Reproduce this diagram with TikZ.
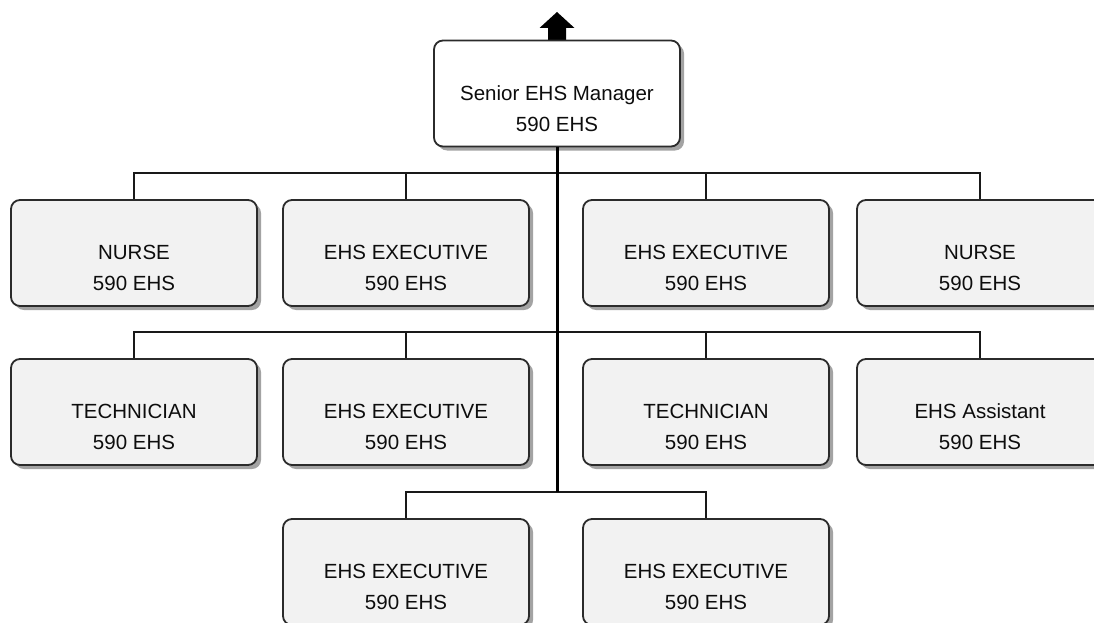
\documentclass[tikz,border=0pt]{standalone}
\usepackage{fontspec}
\setmainfont{Liberation Sans}
\usetikzlibrary{shadows}
\definecolor{edgec}{HTML}{2B2B2B}
\definecolor{boxfill}{HTML}{F2F2F2}
\tikzset{
  box/.style={draw=edgec, line width=1.8pt, rounded corners=9pt, fill=boxfill,
    minimum width=246pt, minimum height=106pt, inner sep=0pt,
    drop shadow={shadow xshift=4pt, shadow yshift=-4pt, fill=black!45, opacity=0.8}},
  topbox/.style={box, fill=white},
  txt/.style={align=center, text=black!95, font=\fontsize{20.5}{31}\selectfont, inner sep=0pt},
  conn/.style={draw=black!90, line width=1.8pt},
  trunk/.style={draw=black, line width=3pt},
}
\begin{document}
\begin{tikzpicture}[x=1pt,y=-1pt]
\useasboundingbox (0,0) rectangle (1094,623);
\begin{scope}
\clip (0,0) rectangle (1094,623);
% arrow
\fill[black] (548,41) -- (548,28) -- (539.5,28) -- (557,12) -- (574.5,28) -- (566,28) -- (566,41) -- cycle;
% nodes
\node[topbox] (top) at (557,93.5) {};
\node[txt] at ([yshift=-15pt]top.center) {Senior EHS Manager\\590 EHS};

\coordinate (j1) at (557,173);
\coordinate (j2) at (557,332);
\coordinate (j3) at (557,492);

\node[box] (a1) at (134,253) {};
\node[box] (a2) at (406,253) {};
\node[box] (a3) at (706,253) {};
\node[box] (a4) at (980,253) {};
\node[box] (b1) at (134,412) {};
\node[box] (b2) at (406,412) {};
\node[box] (b3) at (706,412) {};
\node[box] (b4) at (980,412) {};
\node[box] (c1) at (406,572) {};
\node[box] (c2) at (706,572) {};

\node[txt] at ([yshift=-15pt]a1.center) {NURSE\\590 EHS};
\node[txt] at ([yshift=-15pt]a2.center) {EHS EXECUTIVE\\590 EHS};
\node[txt] at ([yshift=-15pt]a3.center) {EHS EXECUTIVE\\590 EHS};
\node[txt] at ([yshift=-15pt]a4.center) {NURSE\\590 EHS};
\node[txt] at ([yshift=-15pt]b1.center) {TECHNICIAN\\590 EHS};
\node[txt] at ([yshift=-15pt]b2.center) {EHS EXECUTIVE\\590 EHS};
\node[txt] at ([yshift=-15pt]b3.center) {TECHNICIAN\\590 EHS};
\node[txt] at ([yshift=-15pt]b4.center) {EHS Assistant\\590 EHS};
\node[txt] at ([yshift=-15pt]c1.center) {EHS EXECUTIVE\\590 EHS};
\node[txt] at ([yshift=-15pt]c2.center) {EHS EXECUTIVE\\590 EHS};

% connectors
\draw[conn] (j1) -| (a1.north);
\draw[conn] (j1) -| (a2.north);
\draw[conn] (j1) -| (a3.north);
\draw[conn] (j1) -| (a4.north);
\draw[conn] (j2) -| (b1.north);
\draw[conn] (j2) -| (b2.north);
\draw[conn] (j2) -| (b3.north);
\draw[conn] (j2) -| (b4.north);
\draw[conn] (j3) -| (c1.north);
\draw[conn] (j3) -| (c2.north);
\draw[trunk] (top.south) -- (j3);
\end{scope}
\end{tikzpicture}
\end{document}
